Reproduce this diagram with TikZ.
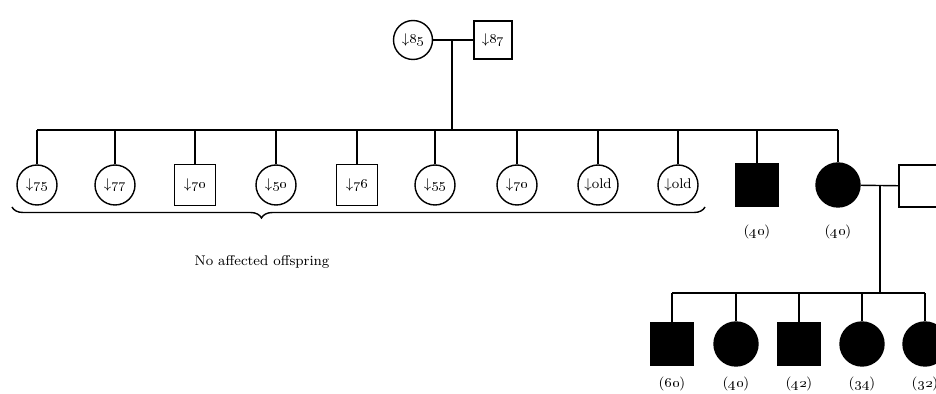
\documentclass[tikz,border=0pt]{standalone}
\usepackage{amsmath}
\usepackage{amssymb}
\usepackage{tikz}
\usepackage{xcolor}
\usetikzlibrary{decorations.pathreplacing}

\tikzset{
  female/.style={circle,draw,thick,minimum size=0.8cm,inner sep=0pt,font=\footnotesize},
  male/.style={rectangle,draw,thick,minimum size=0.82cm,inner sep=0pt,font=\footnotesize},
  afffemale/.style={circle,draw,fill=black,minimum size=0.88cm,inner sep=0pt},
  affmale/.style={rectangle,draw,fill=black,minimum size=0.86cm,inner sep=0pt},
  age/.style={font=\footnotesize}
}

\begin{document}
\begin{tikzpicture}[x=0.02cm,y=-0.02cm,line width=0.8pt]
\useasboundingbox (0,0) rectangle (936,394);

% grandparents
\node[female,minimum size=0.78cm] at (413,40) (gm) {$\downarrow$\oldstylenums{85}};
\node[male,minimum size=0.76cm] at (493,40) (gf) {$\downarrow$\oldstylenums{87}};
\coordinate (gmid) at (452,40);
\coordinate (sib) at (452,130);

% children
\node[female] at (37,185) (c1) {$\downarrow$\oldstylenums{75}};
\node[female] at (115,185) (c2) {$\downarrow$\oldstylenums{77}};
\node[male] at (195,185) (c3) {$\downarrow$\oldstylenums{70}};
\node[female] at (276,185) (c4) {$\downarrow$\oldstylenums{50}};
\node[male] at (357,185) (c5) {$\downarrow$\oldstylenums{76}};
\node[female] at (435,185) (c6) {$\downarrow$\oldstylenums{55}};
\node[female] at (517,185) (c7) {$\downarrow$\oldstylenums{70}};
\node[female] at (598,185) (c8) {$\downarrow$old};
\node[female] at (678,185) (c9) {$\downarrow$old};
\node[affmale] at (757,185) (c10) {};
\node[afffemale] at (838,185) (c11) {};
\node[male,minimum size=0.84cm] at (920,186) (sp) {};

\node[age] at (757,232) (a10) {(\oldstylenums{40})};
\node[age] at (838,232) (a11) {(\oldstylenums{40})};

\draw (gm) -- (gf);
\draw (gmid) -- (sib);
\draw (c1.north |- sib) -- (c11.north |- sib);
\foreach \c in {c1,c2,c3,c4,c5,c6,c7,c8,c9,c10,c11}
  \draw (\c.north) -- (\c.north |- sib);

% grandchildren
\coordinate (mid) at (880,185);
\coordinate (sib2) at (880,293);
\draw (c11) -- (sp);
\draw (mid) -- (sib2);

\node[affmale] at (672,344) (g1) {};
\node[afffemale] at (736,344) (g2) {};
\node[affmale] at (799,344) (g3) {};
\node[afffemale] at (862,344) (g4) {};
\node[afffemale] at (925,344) (g5) {};

\draw (g1.north |- sib2) -- (g5.north |- sib2);
\foreach \g in {g1,g2,g3,g4,g5}
  \draw (\g.north) -- (\g.north |- sib2);

\node[age] at (672,384) {(\oldstylenums{60})};
\node[age] at (736,384) {(\oldstylenums{40})};
\node[age] at (799,384) {(\oldstylenums{42})};
\node[age] at (862,384) {(\oldstylenums{34})};
\node[age] at (925,384) {(\oldstylenums{32})};

% brace
\draw[decorate,decoration={brace,mirror,amplitude=0.22cm,aspect=0.36}] (12,207) -- (705,207);
\node[age] at (262,262) (txt) {No affected offspring};

\end{tikzpicture}
\end{document}
